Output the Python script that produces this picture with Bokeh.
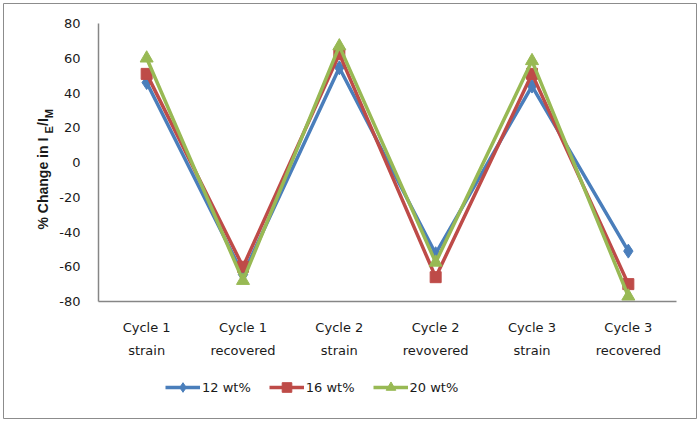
from bokeh.plotting import figure
from bokeh.models import Range1d, FixedTicker, LinearAxis, Legend, LegendItem, Label
from bokeh.embed import file_html
from bokeh.resources import INLINE

# ---- data ----
cat_line1 = ["Cycle 1", "Cycle 1", "Cycle 2", "Cycle 2", "Cycle 3", "Cycle 3"]
cat_line2 = ["strain", "recovered", "strain", "revovered", "strain", "recovered"]
series_names = ["12 wt%", "16 wt%", "20 wt%"]
wt12 = [46, -64.5, 54.5, -52.5, 44, -51]
wt16 = [51, -60, 62.5, -66, 51, -70]
wt20 = [60, -68, 67, -57.5, 58.5, -77]
y_ticks = [-80, -60, -40, -20, 0, 20, 40, 60, 80]

xs = list(range(1, len(cat_line1) + 1))

FONT = "DejaVu Sans"
TXT = "#1a1a1a"
AXC = "#868686"

# ---- layout (pixels inside the chart box) ----
W, H = 694, 416                 # chart box (its outline is the chart border)
PL, PR, PT, PB = 95, 673, 20, 298   # plot area edges inside the box
x_lo, x_hi = 0.5, len(xs) + 0.5
y_lo, y_hi = y_ticks[0], y_ticks[-1]
xpx = (PR - PL) / (x_hi - x_lo)
ypx = (PB - PT) / (y_hi - y_lo)
x_range = Range1d(x_lo - PL / xpx, x_hi + (W - PR) / xpx)
y_range = Range1d(y_lo - (H - PB) / ypx, y_hi + PT / ypx)

p = figure(width=W, height=H, output_backend="svg", toolbar_location=None,
           title_location=None, x_range=x_range, y_range=y_range,
           min_border_left=0, min_border_right=0, min_border_top=0,
           min_border_bottom=0,
           styles={"margin-left": "3px", "margin-top": "3px"})
p.outline_line_color = "#8c8c8c"
p.outline_line_width = 1
p.xgrid.grid_line_color = None
p.ygrid.grid_line_color = None
p.background_fill_color = "white"
p.border_fill_color = "white"


def no_ticks(ax):
    ax.major_tick_out = 0
    ax.major_tick_in = 0
    ax.minor_tick_out = 0
    ax.minor_tick_in = 0


# y axis
ya = p.yaxis[0]
ya.fixed_location = x_lo
ya.bounds = (y_lo, y_hi)
ya.ticker = FixedTicker(ticks=y_ticks, minor_ticks=[])
ya.major_label_overrides = {t: str(t) for t in y_ticks}
ya.axis_line_color = AXC
ya.axis_line_width = 1.5
no_ticks(ya)
ya.major_label_standoff = 18
ya.major_label_text_font = FONT
ya.major_label_text_font_size = "13px"
ya.major_label_text_color = TXT

# x axis, first line of category labels
xa = p.xaxis[0]
xa.fixed_location = y_lo
xa.bounds = (x_lo, x_hi)
xa.ticker = FixedTicker(ticks=xs, minor_ticks=[])
xa.major_label_overrides = {x: t for x, t in zip(xs, cat_line1)}
xa.axis_line_color = AXC
xa.axis_line_width = 1.5
no_ticks(xa)
xa.major_label_standoff = 18
xa.major_label_text_font = FONT
xa.major_label_text_font_size = "13px"
xa.major_label_text_color = TXT

# second line of category labels
xa2 = LinearAxis(ticker=FixedTicker(ticks=xs, minor_ticks=[]), fixed_location=y_lo,
                 bounds=(x_lo, x_hi),
                 major_label_overrides={x: t for x, t in zip(xs, cat_line2)},
                 axis_line_color=None, major_label_standoff=41,
                 major_label_text_font=FONT, major_label_text_font_size="13px",
                 major_label_text_color=TXT)
no_ticks(xa2)
p.add_layout(xa2, "below")

colors = ["#4A7EBB", "#BE4B48", "#98B954"]
markers = ["diamond", "square", "triangle"]
sizes = [14, 11, 13]
items = []
for name, ys, c, m, s in zip(series_names, [wt12, wt16, wt20], colors, markers, sizes):
    ln = p.line(xs, ys, line_color=c, line_width=3.5, line_join="round")
    sc = p.scatter(xs, ys, marker=m, size=s, fill_color=c, line_color=c)
    items.append(LegendItem(label=name, renderers=[ln, sc]))

leg = Legend(items=items, orientation="horizontal", location=(162, 20),
             glyph_width=35, glyph_height=24, label_standoff=2, spacing=18,
             padding=0, margin=0, border_line_color=None,
             background_fill_alpha=0, label_text_font=FONT,
             label_text_font_size="13px", label_text_color=TXT)
p.add_layout(leg, "center")

# y-axis title "% Change in I_E/I_M" (main text with subscripts)
title_parts = [("% Change in I", 39, 190, "14px"), ("E", 45, 286, "11px"),
               ("/I", 39, 293.5, "14px"), ("M", 45, 301.3, "11px")]
for t, xx, yy, fs in title_parts:
    p.add_layout(Label(x=xx, y=yy, x_units="screen", y_units="screen", text=t,
                       angle=1.5707963, text_align="left", text_baseline="middle",
                       text_font="Liberation Sans", text_font_style="bold",
                       text_font_size=fs, text_color=TXT))

open("out.html", "w").write(file_html(p, INLINE))
